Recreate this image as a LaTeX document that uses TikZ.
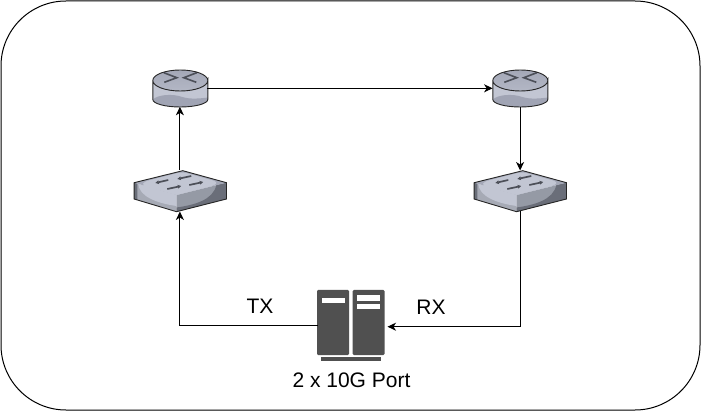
\documentclass[tikz,border=0pt]{standalone}
\usepackage{fontspec}
\setmainfont{Liberation Sans}
\usetikzlibrary{arrows.meta}
\definecolor{devtop}{HTML}{A4A8B7}
\definecolor{devbody}{HTML}{C2C6D3}
\definecolor{devshade}{HTML}{A0A4B4}
\definecolor{devdark}{HTML}{6A6E79}
\definecolor{devmid}{HTML}{959AA5}
\definecolor{devlow}{HTML}{A6AAB5}
\definecolor{devglyph}{HTML}{4C4F58}
\definecolor{srvgray}{HTML}{505050}
\tikzset{
  x=1pt,y=-1pt,
  anchorbox/.style={inner sep=0pt,outer sep=0pt,rectangle},
  link/.style={draw=black,line width=1pt,-{Stealth[length=8.5pt,width=8pt,inset=2.5pt]}},
  lab/.style={inner sep=0pt,font=\fontsize{21}{25}\selectfont,text=black},
  outline/.style={draw=black,line width=1pt},
  glyph/.style={devglyph,line width=1.7pt,-{Stealth[length=3.5pt,width=3.5pt,inset=0pt]}},
  pics/routerdev/.style={code={
    \fill[devbody] (-27.5,-8) -- (-27.5,11) arc[start angle=180,end angle=360,x radius=27.5,y radius=-7.5] -- (27.5,-8) -- cycle;
    \fill[devshade] (-27.5,11) .. controls (-22,6) and (-8,5) .. (2,8.5) .. controls (10,11) and (20,10) .. (27.5,9) -- (27.5,11) arc[start angle=0,end angle=-180,x radius=27.5,y radius=-7.5] -- cycle;
    \shade[top color=devtop,bottom color=devtop!50!devbody] (-27.5,-8) arc[start angle=180,end angle=-180,x radius=27.5,y radius=10.5] -- cycle;
    \draw[devglyph,line width=1.6pt,line join=miter] (-16.5,-15.8) -- (-3.5,-10.8) -- (-16,-6.2) (16.5,-15.8) -- (3.5,-10.8) -- (16,-6.2);
    \draw[black!85,line width=0.9pt] (-27.5,-8) -- (-27.5,11) arc[start angle=180,end angle=360,x radius=27.5,y radius=-7.5] -- (27.5,-8) arc[start angle=0,end angle=360,x radius=27.5,y radius=10.5];
  }},
  pics/switchdev/.style={code={
    \fill[devlow] (-46.2,-8.3) -- (-46.2,8) -- (-3.8,20.7) -- (-3.8,4) -- cycle;
    \fill[devmid] (-3.8,4) -- (-3.8,20.7) -- (46.2,8) -- (46.2,-8.3) -- cycle;
    \fill[devdark] (46.2,-8.3) -- (46.2,8) -- (-3.8,20.7) -- (-3.8,16.5) .. controls (14,14) and (33,9) .. (36,-6) -- cycle;
    \fill[devdark] (-46.2,-8.3) -- (-46.2,8) -- (-43,9) -- (-43,-7.4) -- cycle;
    \fill[devtop] (2.5,-20.3) -- (46.2,-8.3) -- (-3.8,4) -- (-46.2,-8.3) -- cycle;
    \fill[devbody] (-3.8,4) -- (-33,-3.8) .. controls (-40,-6) and (-38,-9) .. (-30,-11) -- (-3,-18) .. controls (0,-18.6) and (3,-18.6) .. (6,-18) -- (31,-11) .. controls (38,-9) and (38,-7) .. (30,-4.5) -- cycle;
    \fill[devbody] (-42,-7) .. controls (-41,5) and (-25,12) .. (-3.8,15) -- (-3.8,4) -- cycle;
    \draw[glyph] (-12,-11) -- (-25,-8);
    \draw[glyph] (11,-15) -- (-3,-12);
    \draw[glyph] (-13,-2) -- (1,-5);
    \draw[glyph] (9,-6) -- (23,-9);
    \draw[black!85,line width=0.9pt] (2.5,-20.3) -- (46.2,-8.3) -- (46.2,8) -- (-3.8,20.7) -- (-46.2,8) -- (-46.2,-8.3) -- cycle;
  }},
  pics/serverdev/.style={code={
    \fill[srvgray,rounded corners=1.2pt] (-33.5,-32.5) rectangle (-1.5,32.5);
    \fill[srvgray,rounded corners=1.2pt] (2.2,-32.5) rectangle (34,32.5);
    \fill[srvgray] (-29.5,34.2) rectangle (30.5,38.2);
    \fill[white] (-28.5,-24.5) rectangle (-5.5,-19.5);
    \fill[white] (6.8,-27.2) rectangle (29.5,-21.8);
    \fill[white] (6.8,-18.5) rectangle (29.5,-13.2);
  }}
}
\begin{document}
\begin{tikzpicture}[x=1pt,y=-1pt]
\useasboundingbox (0,0) rectangle (701,411);
\node[anchorbox,outline,minimum width=699pt,minimum height=409pt,rounded corners=65pt] (frame) at (350.5,205.5) {};
\pic at (180.3,88.5) {routerdev};
\pic at (520.3,88.5) {routerdev};
\pic at (180.3,191) {switchdev};
\pic at (520.3,191) {switchdev};
\pic at (350.5,322.5) {serverdev};
\node[anchorbox,minimum width=55pt,minimum height=37pt] (routerL) at (179.9,88.3) {};
\node[anchorbox,minimum width=55pt,minimum height=37pt] (routerR) at (520.1,88.3) {};
\node[anchorbox,minimum width=92.4pt,minimum height=41pt] (switchL) at (179.9,191) {};
\node[anchorbox,minimum width=92.4pt,minimum height=41pt] (switchR) at (520.1,191) {};
\node[anchorbox,minimum width=67pt,minimum height=65pt] (server) at (350.5,322.5) {};
\coordinate (txport) at (317.5,325.3);
\coordinate (rxport) at (387.5,326.7);
\draw[link] (routerL.east) -- (routerR.west);
\draw[link] (routerR.south) -- (switchR.north);
\draw[link] (switchL.north) -- (routerL.south);
\draw[link] (txport) -| (switchL.south);
\draw[link] (switchR.south) |- (rxport);
\node[lab] (tx) at (260,306) {TX};
\node[lab] (rx) at (431,307) {RX};
\node[lab] (cap) at (351.5,380) {2 x 10G Port};
\end{tikzpicture}
\end{document}
